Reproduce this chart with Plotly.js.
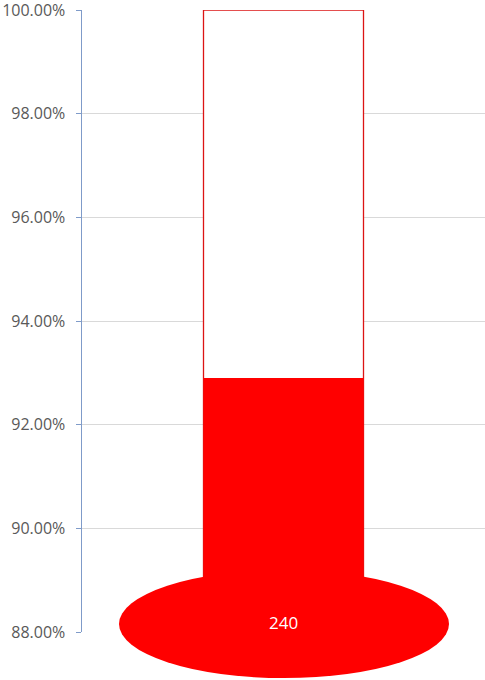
<!DOCTYPE html>
<html>
<head>
<meta charset="utf-8">
<script src="https://cdn.plot.ly/plotly-3.0.1.min.js"></script>
<style>html,body{margin:0;padding:0;background:#fff;}#chart{width:485px;height:680px;}</style>
</head>
<body>
<div id="chart"></div>
<script>
// Data
const categories = ["Progress"];
const axisMin = 0.88;
const targetValues = [1.00];
const actualValues = [0.929];
const bulbLabel = ["240"];
const tickValues = [0.88, 0.90, 0.92, 0.94, 0.96, 0.98, 1.00];

const red = "#FF0000";

const traces = [
  {
    type: "bar",
    x: categories,
    y: targetValues.map(v => v - axisMin),
    base: axisMin,
    marker: {color: "rgba(255,255,255,1)", line: {color: "rgb(220,20,20)", width: 1.3}},
    hoverinfo: "skip"
  },
  {
    type: "bar",
    x: categories,
    y: actualValues.map(v => v - axisMin),
    base: axisMin,
    marker: {color: red, line: {color: red, width: 0}},
    hoverinfo: "skip"
  }
];

const layout = {
  width: 485,
  height: 680,
  margin: {l: 82, r: 0, t: 10, b: 48},
  paper_bgcolor: "#FFFFFF",
  plot_bgcolor: "#FFFFFF",
  showlegend: false,
  barmode: "overlay",
  bargap: 0.603,
  font: {family: "Open Sans, sans-serif", color: "#595959", size: 15},
  xaxis: {
    type: "category",
    range: [-0.5, 0.5],
    showticklabels: false,
    showgrid: false,
    zeroline: false,
    showline: false,
    ticks: ""
  },
  yaxis: {
    range: [axisMin, 1.0],
    tickvals: tickValues,
    tickformat: ".2%",
    showgrid: true,
    gridcolor: "#D9D9D9",
    gridwidth: 1,
    zeroline: false,
    showline: true,
    linecolor: "#7F9BC9",
    linewidth: 1.5,
    ticks: "outside",
    ticklen: 5,
    tickcolor: "#7F9BC9",
    ticklabelstandoff: 7,
    ticklabeloverflow: "allow",
    tickfont: {size: 16, color: "#595959", family: "Open Sans, sans-serif"}
  },
  shapes: [
    {
      type: "circle",
      xref: "paper", yref: "paper",
      x0: 0.0918, x1: 0.9107,
      y0: -0.074, y1: 0.0997,
      fillcolor: red,
      line: {width: 0},
      layer: "above"
    }
  ],
  annotations: [
    {
      xref: "paper", yref: "paper",
      x: 0.5, y: 0.016,
      yanchor: "middle",
      text: bulbLabel[0],
      showarrow: false,
      font: {color: "#FFFFFF", size: 17, family: "Open Sans, sans-serif"}
    }
  ]
};

Plotly.newPlot("chart", traces, layout, {displayModeBar: false, staticPlot: true});
</script>
</body>
</html>
